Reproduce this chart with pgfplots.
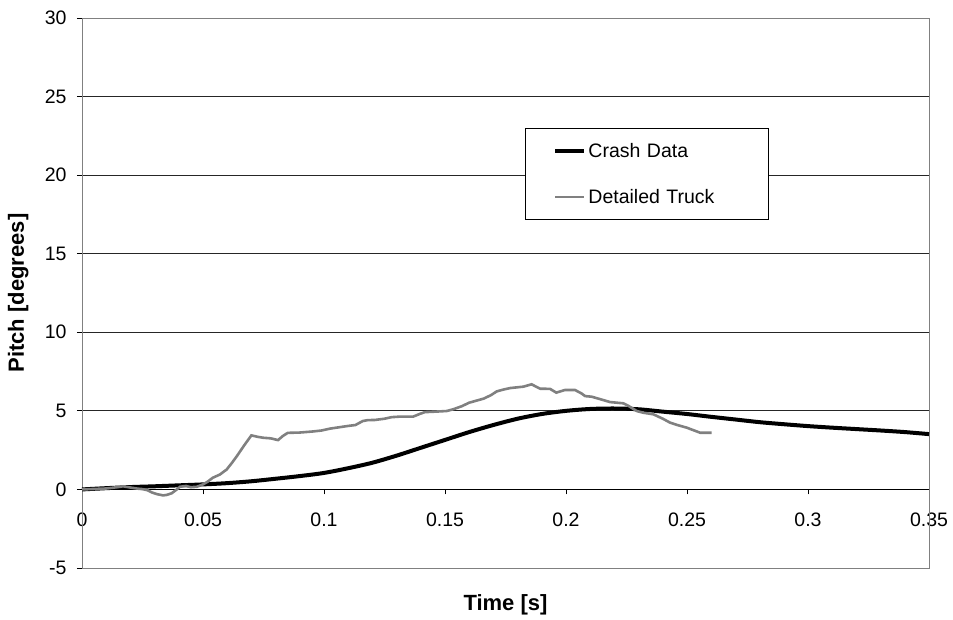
\documentclass[border=0pt]{standalone}
\usepackage{pgfplots}
\pgfplotsset{compat=1.18}
\usepackage{fontspec}
\setmainfont{Liberation Sans}
\definecolor{truckgray}{RGB}{128,128,128}
\definecolor{framegray}{RGB}{128,128,128}
\begin{document}
\begin{tikzpicture}
\useasboundingbox (-82pt,-51pt) rectangle (871pt,568pt);
\begin{axis}[
  scale only axis,
  width=847pt, height=550pt,
  xmin=0, xmax=0.35, ymin=-5, ymax=30,
  axis x line=middle, axis y line=left,
  axis line style={-, black, line width=0.9pt},
  hide obscured x ticks=false, hide obscured y ticks=false,
  xtick={0,0.05,0.1,0.15,0.2,0.25,0.3,0.35},
  xticklabels={0,0.05,0.1,0.15,0.2,0.25,0.3,0.35},
  ytick={-5,0,5,10,15,20,25,30},
  yticklabels={-5,0,5,10,15,20,25,30},
  tick align=outside, major tick length=5pt,
  tick style={black, line width=0.9pt},
  ymajorgrids, major grid style={black!85, line width=0.8pt},
  /pgf/number format/assume math mode=true,
  tick label style={font=\fontsize{19.5}{22}\selectfont},
  xticklabel style={anchor=north, yshift=-15pt},
  yticklabel style={anchor=east, xshift=-7pt},
  label style={font=\fontsize{22}{26}\selectfont\bfseries},
  xlabel={Time [s]},
  xlabel style={at={(axis description cs:0.5,0)}, anchor=north, yshift=-23pt},
  ylabel={Pitch [degrees]},
  ylabel style={at={([xshift=-50pt]axis description cs:0,0.5)}, anchor=south, rotate=0},
  clip=false,
  legend style={at={(axis description cs:0.523,0.8)}, anchor=north west,
    draw=black, line width=0.9pt, font=\fontsize{19.5}{23}\selectfont,
    inner xsep=28pt, inner ysep=13pt, row sep=26pt,
    cells={anchor=west, text width=150pt}},
  legend image code/.code={\draw[#1] (0pt,0pt) -- (29pt,0pt);},
  legend cell align=left,
]
\draw[framegray, line width=0.9pt] (rel axis cs:0,0) rectangle (rel axis cs:1,1);
\addplot[black, line width=4pt, smooth] coordinates {
(0,0) (0.01,0.08) (0.02,0.15) (0.03,0.2) (0.04,0.26) (0.05,0.32) (0.06,0.4) (0.07,0.52) (0.08,0.68) (0.09,0.85) (0.1,1.05) (0.11,1.35) (0.12,1.7) (0.13,2.15) (0.14,2.65) (0.15,3.15) (0.16,3.65) (0.17,4.1) (0.18,4.5) (0.19,4.8) (0.2,5.0) (0.21,5.12) (0.22,5.15) (0.23,5.1) (0.24,4.95) (0.25,4.8) (0.26,4.62) (0.27,4.45) (0.28,4.28) (0.29,4.15) (0.30,4.03) (0.31,3.93) (0.32,3.84) (0.33,3.75) (0.34,3.65) (0.35,3.52)
};
\addlegendentry{Crash Data}
\addplot[truckgray, line width=2.6pt] coordinates {
(0,0) (0.005,0.03) (0.01,0.06) (0.015,0.15) (0.017,0.2) (0.02,0.12) (0.023,0.05) (0.025,0.02) (0.027,-0.05) (0.029,-0.2) (0.031,-0.3) (0.0335,-0.38) (0.035,-0.35) (0.037,-0.25) (0.039,-0.02) (0.0405,0.17) (0.043,0.22) (0.045,0.14) (0.0475,0.17) (0.05,0.32) (0.052,0.5) (0.054,0.74) (0.057,0.95) (0.0598,1.27) (0.062,1.7) (0.064,2.12) (0.067,2.8) (0.070,3.44) (0.0725,3.35) (0.0748,3.29) (0.078,3.25) (0.081,3.14) (0.083,3.4) (0.085,3.6) (0.09,3.62) (0.0955,3.69) (0.099,3.75) (0.1025,3.87) (0.106,3.95) (0.1095,4.03) (0.113,4.1) (0.116,4.35) (0.118,4.41) (0.121,4.42) (0.125,4.5) (0.128,4.6) (0.131,4.63) (0.1368,4.63) (0.1395,4.8) (0.1417,4.92) (0.146,4.95) (0.1507,4.99) (0.1534,5.1) (0.157,5.3) (0.160,5.52) (0.163,5.65) (0.166,5.78) (0.169,6.0) (0.1714,6.24) (0.174,6.35) (0.1769,6.45) (0.1824,6.54) (0.1858,6.69) (0.1875,6.55) (0.1893,6.41) (0.1934,6.4) (0.196,6.16) (0.1996,6.33) (0.2037,6.33) (0.2065,6.1) (0.2079,5.94) (0.2106,5.9) (0.214,5.75) (0.2182,5.56) (0.2237,5.48) (0.226,5.3) (0.2292,4.99) (0.232,4.88) (0.2361,4.78) (0.24,4.5) (0.243,4.25) (0.246,4.1) (0.2499,3.93) (0.2554,3.61) (0.2602,3.61)
};
\addlegendentry{Detailed Truck}
\end{axis}
\end{tikzpicture}
\end{document}
